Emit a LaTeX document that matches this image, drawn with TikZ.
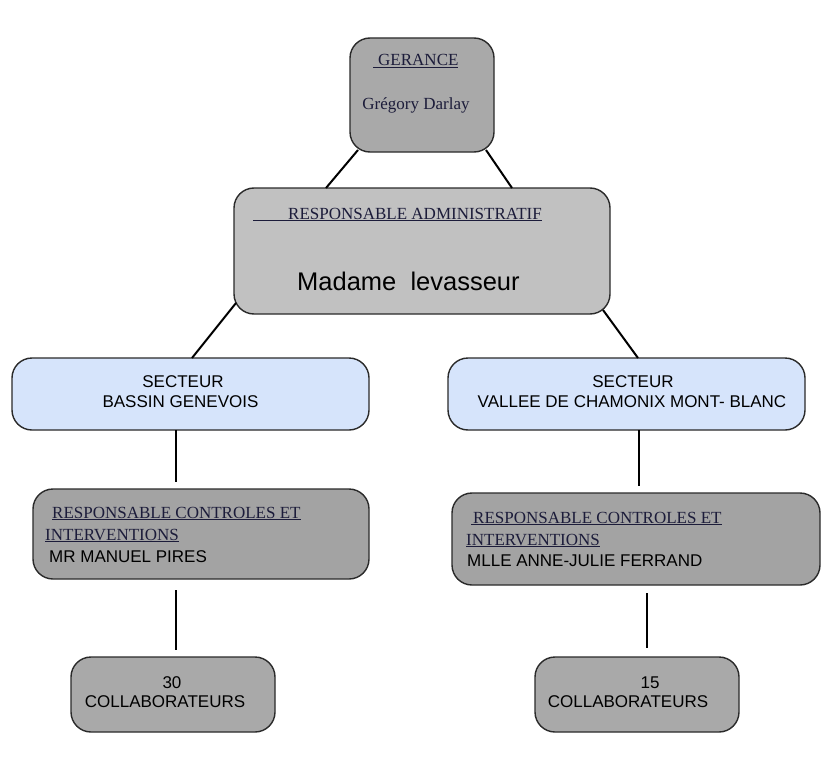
\documentclass[tikz,border=0pt]{standalone}
\usepackage{fontspec}
\setmainfont{Liberation Serif}
\setsansfont{Liberation Sans}

\definecolor{gerfill}{HTML}{A9A9A9}
\definecolor{admfill}{HTML}{C1C1C1}
\definecolor{secfill}{HTML}{D6E4FB}
\definecolor{respfill}{HTML}{A3A3A3}
\definecolor{boxline}{HTML}{2A2A2A}
\definecolor{serifink}{HTML}{1C1C3A}

\tikzset{
  box/.style={draw=boxline, line width=1.4pt, rounded corners=20pt, inner sep=0pt, outer sep=0pt},
  link/.style={line width=2pt, black},
  serif/.style={font=\fontsize{17}{20}\selectfont, text=serifink, inner sep=0pt},
  sans/.style={font=\sffamily\fontsize{17}{20}\selectfont, text=black, inner sep=0pt},
}

\begin{document}
\begin{tikzpicture}[x=1pt, y=-1pt]
  % background
  \fill[white] (0,0) rectangle (840,781);
  \useasboundingbox (0,0) rectangle (840,781);

  % Draw the boxes
  \node[box, fill=gerfill, minimum width=144pt, minimum height=114pt] (ger) at (422,95) {};
  \node[box, fill=admfill, minimum width=376pt, minimum height=126pt] (adm) at (422,251) {};
  \node[box, fill=secfill, minimum width=357pt, minimum height=72pt] (secl) at (190.5,394) {};
  \node[box, fill=secfill, minimum width=357pt, minimum height=72pt] (secr) at (626.5,394) {};
  \node[box, fill=respfill, minimum width=336pt, minimum height=90pt] (respl) at (201,534) {};
  \node[box, fill=respfill, minimum width=368pt, minimum height=92pt] (respr) at (636,539) {};
  \node[box, fill=gerfill, minimum width=204pt, minimum height=75pt] (coll) at (173,694.5) {};
  \node[box, fill=gerfill, minimum width=204pt, minimum height=75pt] (colr) at (637,694.5) {};

  % Draw the connectors
  \draw[link] ([xshift=8pt,yshift=2pt]ger.south west) -- ([xshift=92pt]adm.north west);
  \draw[link] ([xshift=-8pt,yshift=2pt]ger.south east) -- ([xshift=-98pt]adm.north east);
  \draw[link] ([xshift=2pt,yshift=11pt]adm.south west) -- ([xshift=180pt]secl.north west);
  \draw[link] ([xshift=-7pt,yshift=4pt]adm.south east) -- ([xshift=-167pt]secr.north east);

  \coordinate (dl1) at ([xshift=-15pt]secl.south);
  \coordinate (dr1) at ([xshift=12.5pt]secr.south);
  \coordinate (dl2) at ([xshift=-25pt]respl.south);
  \coordinate (dr2) at ([xshift=11pt]respr.south);
  \draw[link, shorten >=7pt] (dl1) -- (dl1 |- respl.north);
  \draw[link, shorten >=7pt] (dr1) -- (dr1 |- respr.north);
  \draw[link, shorten <=11pt, shorten >=7pt] (dl2) -- (dl2 |- coll.north);
  \draw[link, shorten <=8pt, shorten >=9pt] (dr2) -- (dr2 |- colr.north);

  % Texts
  \node[serif, anchor=base west] (gert) at (373,66) {\underline{\hspace*{5pt}GERANCE}};
  \node[serif, anchor=base] (gern) at (416,110) {Grégory Darlay};

  \node[serif, anchor=base west] (admt) at (253,219) {\underline{\hspace*{35pt}RESPONSABLE ADMINISTRATIF}};
  \node[sans, font=\sffamily\fontsize{25.5}{30}\selectfont, anchor=base west] (admn) at (297,290) {Madame\ \ levasseur};

  \node[sans, anchor=base] at (183,387) {SECTEUR};
  \node[sans, anchor=base] at (180.5,407) {BASSIN GENEVOIS};
  \node[sans, anchor=base] at (633,387) {SECTEUR};
  \node[sans, anchor=base] at (632,407) {VALLEE DE CHAMONIX MONT- BLANC};

  \node[serif, anchor=base west] at (52,518) {\underline{RESPONSABLE CONTROLES ET}};
  \node[serif, anchor=base west] at (45,540) {\underline{INTERVENTIONS}};
  \node[sans, anchor=base west] at (49,562) {MR MANUEL PIRES};

  \node[serif, anchor=base west] at (471,523) {\underline{\hspace*{2pt}RESPONSABLE CONTROLES ET}};
  \node[serif, anchor=base west] at (466,545) {\underline{INTERVENTIONS}};
  \node[sans, anchor=base west] at (467,566) {MLLE ANNE-JULIE FERRAND};

  \node[sans, anchor=base] at (172,688) {30};
  \node[sans, anchor=base] at (165,707) {COLLABORATEURS};
  \node[sans, anchor=base] at (650,688) {15};
  \node[sans, anchor=base] at (628,707) {COLLABORATEURS};
\end{tikzpicture}
\end{document}
